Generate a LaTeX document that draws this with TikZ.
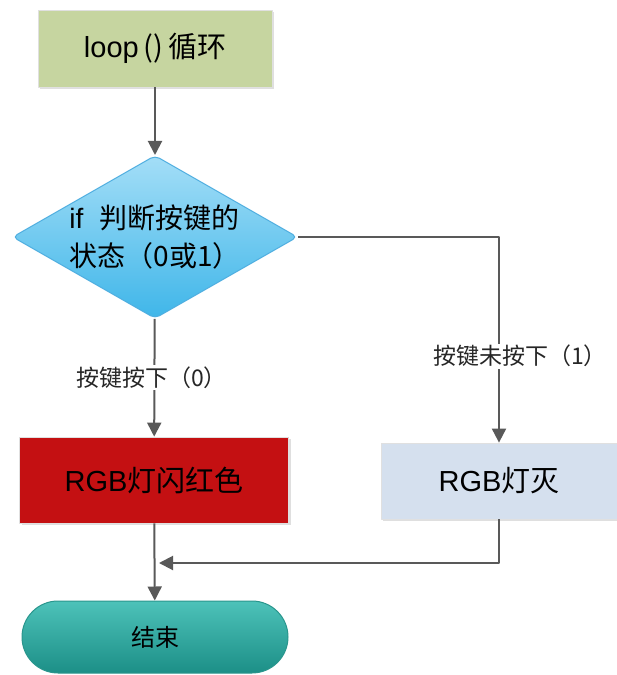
\documentclass[tikz,border=0pt]{standalone}
\usepackage{fontspec}
\setmainfont{Liberation Sans}
\newfontfamily\cjk{Noto Sans CJK SC}
\usetikzlibrary{shapes.geometric, arrows.meta, shadows}
\definecolor{loopgreen}{HTML}{C6D5A0}
\definecolor{rgbred}{HTML}{C41012}
\definecolor{offblue}{HTML}{D5E0EE}
\definecolor{diatop}{HTML}{A4DEF7}
\definecolor{diabot}{HTML}{3FB6E9}
\definecolor{diaedge}{HTML}{4FAEE0}
\definecolor{termtop}{HTML}{4DC2B9}
\definecolor{termbot}{HTML}{1C8F87}
\definecolor{termedge}{HTML}{2A968D}
\definecolor{flowgray}{HTML}{595959}
\begin{document}
\begin{tikzpicture}[x=1pt, y=-1pt, line join=round,
  box/.style={draw=black!12, line width=0.8pt, inner sep=0pt, font=\fontsize{29}{33}\selectfont,
    drop shadow={opacity=0.25, shadow xshift=2pt, shadow yshift=-2pt}},
  cond/.style={diamond, aspect=1.75, minimum width=285pt, minimum height=163pt, inner sep=0pt,
    rounded corners=5pt, draw=diaedge, line width=1pt, top color=diatop, bottom color=diabot,
    align=left, font=\fontsize{28}{38}\selectfont},
  term/.style={rectangle, rounded corners=36pt, minimum width=266pt, minimum height=72pt,
    draw=termedge, line width=1pt, top color=termtop, bottom color=termbot, font=\fontsize{24}{27}\selectfont},
  lbl/.style={fill=white, inner sep=1.5pt, text=black!85, font=\fontsize{23}{26}\selectfont},
  flow/.style={draw=flowgray, line width=2pt, -{Triangle[length=14pt,width=14pt]}}]
\useasboundingbox (0,0) rectangle (617,675);
% boxes
\node[box, fill=loopgreen, minimum width=234pt, minimum height=77pt] (loop) at (155,48.5) {loop\,{\cjk ()\,循环}};
\node[cond] (dec) at (155,237) {if\ \ {\cjk 判断按键的}\\{\cjk 状态（0或1）}};
\node[box, fill=rgbred, minimum width=269pt, minimum height=86pt] (red) at (154,480) {RGB{\cjk 灯闪红色}};
\node[box, fill=offblue, minimum width=236pt, minimum height=76pt] (off) at (499,481) {RGB{\cjk 灯灭}};
\node[term] (stop) at (155,637) {\cjk 结束};
\coordinate (join) at (155,563);
% connectors
\draw[flow] (loop) -- (dec);
\draw[flow] (dec) -- node[lbl, pos=0.5, xshift=-3pt] {\cjk 按键按下（0）} (red);
\draw[flow] (dec.east) -| node[lbl, pos=0.79, xshift=21pt] {\cjk 按键未按下（1）} (off);
\draw[flow] (off.south) |- ([xshift=4pt]join);
\draw[flow] (red) -- (stop);
\end{tikzpicture}
\end{document}
